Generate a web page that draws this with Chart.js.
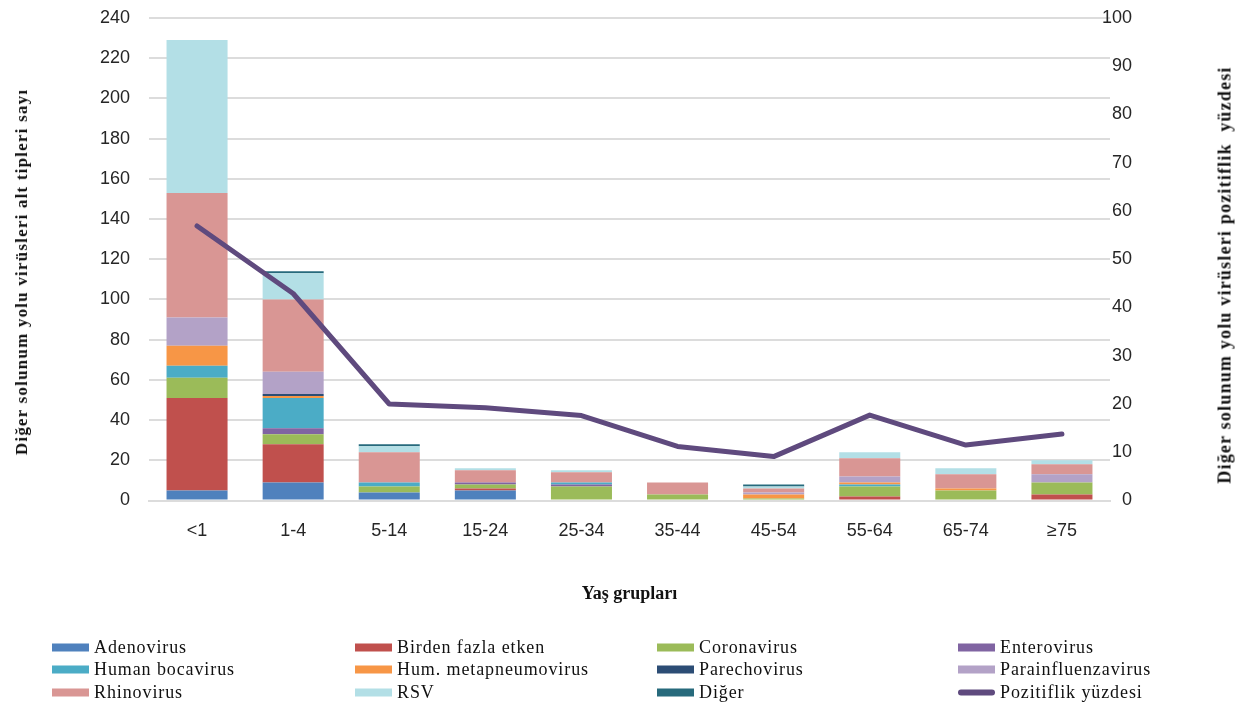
<!DOCTYPE html>
<html>
<head>
<meta charset="utf-8">
<script src="https://cdn.jsdelivr.net/npm/chart.js@4.4.1/dist/chart.umd.min.js"></script>
<style>
  html, body { margin: 0; padding: 0; background: #ffffff; }
  #wrap { position: relative; width: 1253px; height: 709px; overflow: hidden; }
  #chart { position: absolute; left: 0; top: 0; }
  .axis-title {
    position: absolute;
    font-family: "Liberation Serif", "Times New Roman", serif;
    font-weight: bold;
    color: #111;
    white-space: pre;
    transform: translate(-50%, -50%) rotate(-90deg);
  }
  .legend-item {
    position: absolute;
    display: flex;
    align-items: center;
    font-family: "Liberation Serif", "Times New Roman", serif;
    font-size: 18px;
    letter-spacing: 0.9px;
    color: #111;
    white-space: nowrap;
    transform: translateY(-50%);
  }
  .swatch { width: 37px; height: 8px; margin-right: 5px; flex: none; }
  .swatch.line { height: 6px; border-radius: 3px; }
</style>
</head>
<body>
<div id="wrap">
  <canvas id="chart" width="1253" height="709"></canvas>
  <div id="leftTitle" class="axis-title" style="left:22px; top:272px; font-size:17px; letter-spacing:1.2px;">Diğer solunum yolu virüsleri alt tipleri sayı</div>
  <div id="rightTitle" class="axis-title" style="left:1225px; top:275px; font-size:18px; letter-spacing:1.2px;">Diğer solunum yolu virüsleri pozitiflik  yüzdesi</div>
  <div id="legend"></div>
</div>
<script>
// Age groups on the category axis
const ageGroups = ['<1', '1-4', '5-14', '15-24', '25-34', '35-44', '45-54', '55-64', '65-74', '≥75'];

// Counts of each respiratory virus subtype per age group (stacked bars, left axis)
const adenovirus       = [5, 9, 4, 5, 0, 0, 0, 0, 0, 0];
const birdenFazlaEtken = [46, 19, 0, 1, 0, 0, 0, 2, 0, 3];
const coronavirus      = [10, 5, 3, 2, 7, 3, 1, 5, 5, 6];
const enterovirus      = [0, 3, 0, 1, 1, 0, 0, 0, 0, 0];
const humanBocavirus   = [6, 15, 2, 0, 1, 0, 0, 1, 0, 0];
const humMetapneumo    = [10, 1, 0, 0, 0, 0, 2, 1, 1, 0];
const parechovirus     = [0, 1, 0, 0, 0, 0, 0, 0, 0, 0];
const parainfluenza    = [14, 11, 0, 0, 0, 0, 1, 3, 0, 4];
const rhinovirus       = [62, 36, 15, 6, 5, 6, 2, 9, 7, 5];
const rsv              = [76, 13, 3, 1, 1, 0, 1, 3, 3, 2];
const diger            = [0, 1, 1, 0, 0, 0, 1, 0, 0, 0];

// Positivity percentage per age group (line, right axis)
const pozitiflikYuzdesi = [56.9, 42.9, 20.0, 19.2, 17.6, 11.2, 9.1, 17.7, 11.5, 13.8];

// Series names and colours
const seriesNames = ['Adenovirus', 'Birden fazla etken', 'Coronavirus', 'Enterovirus',
  'Human bocavirus', 'Hum. metapneumovirus', 'Parechovirus', 'Parainfluenzavirus',
  'Rhinovirus', 'RSV', 'Diğer'];
const seriesValues = [adenovirus, birdenFazlaEtken, coronavirus, enterovirus,
  humanBocavirus, humMetapneumo, parechovirus, parainfluenza, rhinovirus, rsv, diger];
const seriesColors = ['#4F81BD', '#C0504D', '#9BBB59', '#8064A2', '#4BACC6', '#F79646',
  '#2C4D75', '#B3A2C7', '#D99694', '#B3DFE6', '#276A7C'];
const lineName = 'Pozitiflik yüzdesi';
const lineColor = '#5F4A7E';

// Left axis: 0–240 step 20; right axis: 0–100 step 10
const leftAxisMax = 240, leftAxisStep = 20;
const rightAxisMax = 100, rightAxisStep = 10;

const tickFont = { family: '"Liberation Sans", Arial, sans-serif', size: 18 };
const tickColor = '#262626';
const gridColor = '#DCDCDC';

// Vertical axes keep a fixed width and do not push the plot area inward for label overflow
function fixVerticalAxis(width) {
  return function (scale) {
    scale.width = width;
    scale.paddingTop = 0;
    scale.paddingBottom = 0;
  };
}

const datasets = [{
  type: 'line',
  label: lineName,
  data: pozitiflikYuzdesi,
  yAxisID: 'y1',
  borderColor: lineColor,
  backgroundColor: lineColor,
  borderWidth: 5,
  pointRadius: 0,
  tension: 0,
  borderCapStyle: 'round',
  borderJoinStyle: 'round',
  order: -1
}];
seriesNames.forEach((name, i) => {
  datasets.push({
    type: 'bar',
    label: name,
    data: seriesValues[i],
    yAxisID: 'y',
    backgroundColor: seriesColors[i],
    borderWidth: 0,
    categoryPercentage: 1.0,
    barPercentage: 0.635,
    order: 0
  });
});

const chart = new Chart(document.getElementById('chart'), {
  data: { labels: ageGroups, datasets },
  options: {
    responsive: false,
    animation: false,
    devicePixelRatio: 1,
    layout: { padding: { left: 0, right: 121, top: 18, bottom: 104 } },
    plugins: { legend: { display: false }, tooltip: { enabled: false } },
    scales: {
      x: {
        stacked: true,
        offset: true,
        grid: { display: false, drawTicks: false },
        border: { display: true, color: gridColor, width: 2 },
        ticks: { font: tickFont, color: tickColor, padding: 20, maxRotation: 0 },
        title: {
          display: true,
          text: 'Yaş grupları',
          font: { family: '"Liberation Serif", "Times New Roman", serif', size: 18, weight: 'bold' },
          color: '#111',
          padding: 0
        },
        afterFit(scale) {
          scale.height = 104.5;
          scale.paddingLeft = 0;
          scale.paddingRight = 0;
        }
      },
      y: {
        stacked: true,
        position: 'left',
        min: 0,
        max: leftAxisMax,
        ticks: { stepSize: leftAxisStep, font: tickFont, color: tickColor, padding: 19 },
        grid: { color: gridColor, lineWidth: 2, drawTicks: false },
        border: { display: false },
        afterFit: fixVerticalAxis(149)
      },
      y1: {
        position: 'right',
        min: 0,
        max: rightAxisMax,
        // mirrored, right-aligned labels so wide values may extend left of the axis box
        ticks: { stepSize: rightAxisStep, font: tickFont, color: tickColor, mirror: true, padding: 22, crossAlign: 'near' },
        grid: { display: false, drawOnChartArea: false, drawTicks: false },
        border: { display: false },
        afterFit: fixVerticalAxis(22)
      }
    }
  }
});

// Legend: four columns, three rows, series order row by row
const legendCols = [52, 355, 657, 958];
const legendRows = [647, 669, 692];
const legendEl = document.getElementById('legend');
const legendEntries = seriesNames.map((name, i) => ({ name, color: seriesColors[i], line: false }));
legendEntries.push({ name: lineName, color: lineColor, line: true });
legendEntries.forEach((entry, i) => {
  const item = document.createElement('div');
  item.className = 'legend-item';
  item.style.left = legendCols[i % 4] + 'px';
  item.style.top = legendRows[Math.floor(i / 4)] + 'px';
  const sw = document.createElement('span');
  sw.className = 'swatch' + (entry.line ? ' line' : '');
  sw.style.background = entry.color;
  const tx = document.createElement('span');
  tx.textContent = entry.name;
  item.appendChild(sw);
  item.appendChild(tx);
  legendEl.appendChild(item);
});
</script>
</body>
</html>
